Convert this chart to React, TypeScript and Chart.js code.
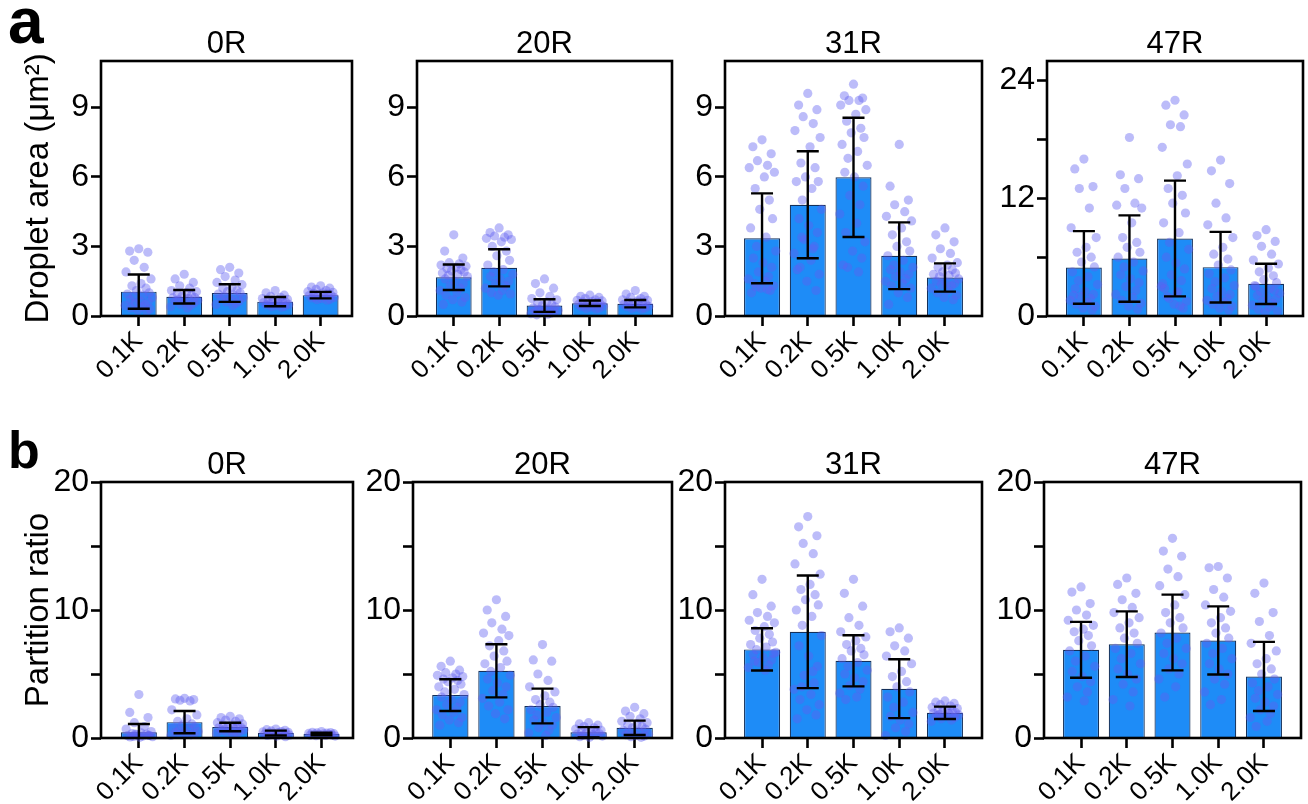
import React, { useEffect, useRef } from 'react';
import { Chart, registerables } from 'chart.js';

Chart.register(...registerables);
Chart.defaults.font.family = "'Liberation Sans', Arial, sans-serif";
Chart.defaults.color = '#000';

// ---------- data ----------
const CATEGORIES = ['0.1K', '0.2K', '0.5K', '1.0K', '2.0K'];
const PANEL_TITLES = ['0R', '20R', '31R', '47R'];
const AREA_TITLE = 'Droplet area (μm²)';
const RATIO_TITLE = 'Partition ratio';

const AREA_TICKS = [0, 3, 6, 9];
const AREA_LABELED = [0, 3, 6, 9];
const AREA_MAX = 11;
const AREA47_TICKS = [0, 6, 12, 18, 24];
const AREA47_LABELED = [0, 12, 24];
const AREA47_MAX = 26;
const RATIO_TICKS = [0, 5, 10, 15, 20];
const RATIO_LABELED = [0, 10, 20];
const RATIO_MAX = 20;

// Row a: droplet area (mean, SD, individual droplets)
const AREA_0R_MEAN = [1.05, 0.83, 0.99, 0.62, 0.9];
const AREA_0R_SD = [0.74, 0.29, 0.38, 0.2, 0.14];
const AREA_0R_POINTS = [
  [2.9, 2.8, 2.75, 2.4, 2.1, 1.9, 1.6, 1.4, 1.3, 1.2, 1.1, 1.0, 0.95, 0.9, 0.85, 0.8, 0.7, 0.65, 0.6, 0.55, 0.5, 0.45, 0.4, 0.35, 0.3, 0.25, 0.2],
  [1.8, 1.6, 1.45, 1.3, 1.2, 1.1, 1.05, 1.0, 0.95, 0.9, 0.85, 0.8, 0.78, 0.75, 0.7, 0.68, 0.65, 0.6, 0.55, 0.5, 0.45, 0.4, 0.35],
  [2.1, 2.0, 1.85, 1.7, 1.55, 1.45, 1.35, 1.25, 1.2, 1.1, 1.05, 1.0, 0.95, 0.9, 0.85, 0.8, 0.75, 0.7, 0.65, 0.6, 0.55, 0.5, 0.45],
  [1.1, 1.0, 0.9, 0.85, 0.8, 0.75, 0.72, 0.7, 0.68, 0.65, 0.62, 0.6, 0.58, 0.55, 0.52, 0.5, 0.48, 0.45, 0.42, 0.4, 0.38],
  [1.3, 1.25, 1.2, 1.15, 1.1, 1.05, 1.02, 1.0, 0.98, 0.95, 0.92, 0.9, 0.88, 0.85, 0.82, 0.8, 0.78, 0.75, 0.72, 0.7, 0.68],
];
const AREA_20R_MEAN = [1.67, 2.08, 0.45, 0.55, 0.53];
const AREA_20R_SD = [0.55, 0.8, 0.27, 0.12, 0.16];
const AREA_20R_POINTS = [
  [3.5, 2.8, 2.5, 2.3, 2.25, 2.2, 2.15, 2.1, 2.05, 2.0, 1.95, 1.9, 1.85, 1.8, 1.75, 1.7, 1.6, 1.5, 1.4, 1.3, 1.2, 1.1, 1.0, 0.9, 0.8, 0.7, 0.6, 0.5],
  [3.8, 3.6, 3.5, 3.45, 3.4, 3.35, 3.3, 3.2, 3.0, 2.8, 2.6, 2.4, 2.2, 2.0, 1.9, 1.8, 1.7, 1.6, 1.5, 1.4, 1.3, 1.2, 1.1, 1.0, 0.95, 0.9],
  [1.6, 1.4, 1.2, 1.0, 0.85, 0.75, 0.7, 0.6, 0.55, 0.5, 0.45, 0.4, 0.35, 0.3, 0.28, 0.25, 0.22, 0.2, 0.18, 0.15, 0.12, 0.1, 0.08, 0.05],
  [0.9, 0.85, 0.8, 0.75, 0.7, 0.68, 0.65, 0.62, 0.6, 0.58, 0.55, 0.52, 0.5, 0.48, 0.45, 0.42, 0.4, 0.38, 0.35, 0.32, 0.3],
  [1.1, 0.95, 0.85, 0.8, 0.75, 0.7, 0.68, 0.65, 0.6, 0.58, 0.55, 0.52, 0.5, 0.48, 0.45, 0.42, 0.4, 0.38, 0.35, 0.32, 0.3],
];
const AREA_31R_MEAN = [3.35, 4.8, 5.98, 2.6, 1.66];
const AREA_31R_SD = [1.94, 2.31, 2.57, 1.44, 0.61];
const AREA_31R_POINTS = [
  [7.6, 7.3, 7.0, 6.7, 6.5, 6.4, 6.2, 6.0, 5.5, 5.0, 4.6, 4.2, 3.8, 3.4, 3.0, 2.8, 2.5, 2.3, 2.1, 1.9, 1.7, 1.6, 1.5, 1.4, 1.3, 1.2, 1.1, 1.0, 1.15, 1.25],
  [9.6, 9.1, 8.9, 8.6, 8.3, 8.0, 7.7, 7.3, 6.6, 6.4, 6.0, 5.8, 5.8, 5.5, 5.0, 4.6, 4.2, 3.9, 3.6, 3.3, 3.0, 2.7, 2.4, 2.1, 1.8, 1.5, 1.1, 2.0, 2.9, 3.4],
  [10.0, 9.5, 9.4, 9.3, 9.3, 9.1, 8.9, 8.7, 8.4, 8.1, 7.9, 7.7, 7.4, 7.1, 6.8, 6.5, 6.2, 6.0, 5.6, 5.2, 4.8, 4.4, 4.0, 3.6, 3.2, 2.8, 2.5, 2.2, 1.9, 2.1],
  [7.4, 5.6, 5.0, 4.8, 4.5, 4.3, 4.1, 3.8, 3.5, 3.2, 3.0, 2.8, 2.6, 2.4, 2.2, 2.1, 2.0, 1.9, 1.8, 1.7, 1.6, 1.5, 1.4, 1.3, 1.2, 1.0, 0.8, 0.5],
  [3.8, 3.5, 3.2, 2.9, 2.7, 2.5, 2.3, 2.2, 2.1, 2.0, 1.9, 1.85, 1.8, 1.75, 1.7, 1.6, 1.5, 1.45, 1.4, 1.35, 1.3, 1.2, 1.1, 1.0, 0.9, 0.8, 0.7],
];
const AREA_47R_MEAN = [4.95, 5.86, 7.9, 4.98, 3.28];
const AREA_47R_SD = [3.7, 4.4, 5.9, 3.6, 2.05];
const AREA_47R_POINTS = [
  [16.0, 15.0, 13.2, 13.0, 11.0, 9.0, 8.0, 7.0, 6.5, 6.0, 5.5, 5.0, 4.5, 4.0, 3.6, 3.2, 2.8, 2.5, 2.2, 2.0, 1.8, 1.6, 1.4, 1.2, 1.0, 0.8, 0.6, 2.1],
  [18.2, 14.4, 14.0, 13.0, 11.5, 11.3, 11.0, 9.5, 8.0, 7.5, 7.0, 6.5, 6.0, 5.5, 5.0, 4.6, 4.2, 3.8, 3.4, 3.0, 2.6, 2.2, 1.9, 1.6, 1.3, 1.0, 0.7],
  [22.0, 21.5, 20.5, 19.5, 19.3, 17.2, 15.5, 14.3, 13.0, 12.3, 11.5, 10.5, 9.5, 8.5, 7.5, 6.8, 6.0, 5.4, 4.8, 4.2, 3.6, 3.0, 2.5, 2.0, 1.5, 1.2, 0.8, 2.8, 1.0, 1.8, 2.3, 3.3],
  [15.9, 14.8, 13.5, 11.5, 10.0, 9.3, 8.0, 7.0, 6.3, 5.8, 5.2, 4.7, 4.3, 3.9, 3.5, 3.1, 2.8, 2.5, 2.2, 2.0, 1.8, 1.6, 1.4, 1.2, 1.0, 0.8, 0.6],
  [8.8, 8.2, 7.6, 7.1, 6.3, 5.7, 5.3, 4.9, 4.5, 4.1, 3.7, 3.4, 3.1, 2.8, 2.5, 2.3, 2.1, 1.9, 1.7, 1.5, 1.3, 1.1, 0.9, 0.7, 0.5, 0.4, 2.6, 3.0],
];

// Row b: partition ratio (mean, SD, individual droplets)
const RATIO_0R_MEAN = [0.44, 1.24, 0.86, 0.39, 0.31];
const RATIO_0R_SD = [0.65, 0.87, 0.33, 0.19, 0.1];
const RATIO_0R_POINTS = [
  [3.4, 2.0, 1.6, 1.2, 0.9, 0.7, 0.5, 0.4, 0.35, 0.3, 0.25, 0.2, 0.18, 0.15, 0.12, 0.1, 0.08, 0.05, 0.2, 0.3],
  [3.1, 3.05, 3.0, 2.95, 2.9, 2.2, 1.8, 1.5, 1.3, 1.1, 1.0, 0.9, 0.8, 0.7, 0.6, 0.5, 0.45, 0.4, 0.35, 0.3, 0.25, 0.2],
  [1.7, 1.6, 1.5, 1.4, 1.3, 1.2, 1.1, 1.05, 1.0, 0.95, 0.9, 0.85, 0.8, 0.75, 0.7, 0.65, 0.6, 0.55, 0.5, 0.45, 0.4, 0.35, 0.3],
  [0.7, 0.65, 0.6, 0.55, 0.5, 0.48, 0.45, 0.42, 0.4, 0.38, 0.35, 0.32, 0.3, 0.28, 0.25, 0.22, 0.2, 0.15, 0.1],
  [0.5, 0.45, 0.42, 0.4, 0.38, 0.36, 0.34, 0.32, 0.3, 0.28, 0.26, 0.24, 0.22, 0.2, 0.18, 0.15],
];
const RATIO_20R_MEAN = [3.35, 5.25, 2.5, 0.45, 0.8];
const RATIO_20R_SD = [1.24, 2.08, 1.36, 0.4, 0.56];
const RATIO_20R_POINTS = [
  [6.0, 5.6, 5.3, 5.1, 5.0, 4.9, 4.8, 4.7, 4.6, 4.5, 4.4, 4.2, 4.0, 3.8, 3.6, 3.4, 3.2, 3.0, 2.8, 2.6, 2.4, 2.2, 2.0, 1.8, 1.6, 1.4, 1.2, 1.0],
  [10.8, 10.0, 9.5, 9.0, 8.5, 8.2, 8.0, 7.6, 7.2, 6.8, 6.4, 6.0, 5.8, 5.5, 5.2, 4.9, 4.6, 4.3, 4.0, 3.7, 3.4, 3.1, 2.8, 2.5, 2.2, 1.9, 1.5],
  [7.3, 6.1, 6.0, 5.0, 4.5, 4.0, 3.6, 3.3, 3.0, 2.8, 2.6, 2.4, 2.2, 2.0, 1.8, 1.6, 1.4, 1.2, 1.0, 0.8, 0.6, 0.4, 0.2],
  [1.2, 1.1, 1.0, 0.9, 0.8, 0.7, 0.6, 0.55, 0.5, 0.45, 0.4, 0.35, 0.3, 0.25, 0.2, 0.15, 0.1, 0.05],
  [2.4, 2.1, 1.9, 1.7, 1.5, 1.3, 1.2, 1.1, 1.0, 0.9, 0.8, 0.7, 0.6, 0.5, 0.4, 0.3, 0.25, 0.2, 0.15, 0.1, 0.05],
];
const RATIO_31R_MEAN = [6.92, 8.3, 6.03, 3.85, 1.97];
const RATIO_31R_SD = [1.65, 4.4, 2.0, 2.3, 0.48];
const RATIO_31R_POINTS = [
  [12.4, 11.2, 10.3, 9.8, 9.5, 9.2, 9.0, 8.7, 8.4, 8.1, 7.8, 7.5, 7.3, 7.1, 6.9, 6.7, 6.5, 6.3, 6.1, 5.9, 5.7, 5.5, 5.3, 6.0, 6.6],
  [17.3, 16.5, 15.8, 15.2, 14.4, 13.6, 12.8, 12.0, 11.6, 11.2, 10.8, 10.4, 10.0, 9.5, 8.8, 8.0, 7.2, 6.4, 5.6, 4.9, 4.3, 3.8, 3.4, 3.0, 2.6, 2.2, 1.8, 1.5, 5.2, 4.0],
  [12.4, 11.3, 10.3, 9.4, 8.8, 8.3, 7.9, 7.6, 7.3, 7.0, 6.8, 6.5, 6.2, 5.9, 5.6, 5.3, 5.0, 4.7, 4.4, 4.1, 3.8, 3.5, 3.2, 3.0],
  [8.6, 8.3, 7.8, 7.2, 6.8, 6.4, 5.8, 5.2, 4.8, 4.4, 4.0, 3.6, 3.2, 2.8, 2.4, 2.0, 1.7, 1.4, 1.1, 0.8, 0.5, 0.2],
  [2.9, 2.8, 2.7, 2.6, 2.5, 2.4, 2.3, 2.2, 2.15, 2.1, 2.05, 2.0, 1.95, 1.9, 1.85, 1.8, 1.75, 1.7, 1.6, 1.5, 1.4, 1.3],
];
const RATIO_47R_MEAN = [6.89, 7.33, 8.24, 7.62, 4.81];
const RATIO_47R_SD = [2.18, 2.56, 2.96, 2.66, 2.7];
const RATIO_47R_POINTS = [
  [11.8, 11.4, 10.5, 10.0, 9.6, 9.2, 8.8, 8.5, 8.3, 8.0, 7.6, 7.2, 6.8, 6.4, 6.0, 5.6, 5.2, 4.8, 4.4, 4.0, 3.6, 3.2, 2.9],
  [12.5, 12.0, 11.3, 10.8, 10.2, 9.8, 9.4, 9.0, 8.6, 8.2, 7.8, 7.4, 7.0, 6.6, 6.2, 5.8, 5.4, 5.0, 4.6, 4.2, 3.6, 3.0, 2.5],
  [15.6, 14.6, 14.2, 13.2, 12.6, 11.9, 11.2, 10.4, 9.8, 9.4, 9.0, 8.6, 8.2, 7.8, 7.4, 7.0, 6.6, 6.2, 5.8, 5.4, 5.0, 4.6, 4.0, 3.2],
  [13.4, 13.3, 12.5, 11.6, 11.0, 10.4, 9.9, 9.4, 9.0, 8.6, 8.2, 7.8, 7.4, 7.0, 6.6, 6.2, 5.8, 5.4, 5.0, 4.6, 4.2, 3.6, 3.0, 2.6],
  [12.1, 11.3, 9.8, 9.1, 8.0, 7.4, 6.8, 6.2, 5.8, 5.4, 5.0, 4.6, 4.3, 4.0, 3.7, 3.4, 3.1, 2.8, 2.5, 2.2, 1.9, 1.6, 1.3, 0.9],
];

// ---------- style / layout ----------
const JITTER = [0, -0.2, 0.2, -0.1, 0.12, -0.28, 0.27, 0.05, -0.15, 0.16, -0.05, 0.23, -0.25, 0.09, -0.12, 0.3, -0.19, 0.02, 0.21, -0.08, 0.14, -0.3, 0.07, -0.17, 0.25, -0.02, 0.18, -0.23, 0.11, -0.13, 0.04, -0.27];
const BAR_FILL = '#1e8cf7';
const BAR_EDGE = '#14305a';
const DOT_FILL = 'rgba(95,95,240,0.42)';
const FONT = "'Liberation Sans', Arial, sans-serif";
const PAD_TOP = 52;
const PAD_RIGHT = 6;
const X_AXIS_H = 66;

type Panel = {
  title: string; mean: number[]; sd: number[]; points: number[][];
  yMax: number; yTicks: number[]; yLabeled: number[]; yTitle?: string;
  plot: [number, number, number, number]; // left, top, right, bottom (page px)
  xRange: [number, number];
};

const ROW_A_PLOTS: [number, number, number, number][] = [[101, 61, 352, 316], [417, 61, 672, 316], [725, 61, 982, 316], [1047, 61, 1303, 316]];
const ROW_B_PLOTS: [number, number, number, number][] = [[101, 482, 353, 738], [413, 482, 672, 738], [725, 482, 982, 738], [1044, 482, 1301, 738]];
const X_RANGE_FIRST: [number, number] = [-0.83, 4.69];
const X_RANGE_OTHER: [number, number] = [-0.81, 4.81];

const AREA_SETS = [
  [AREA_0R_MEAN, AREA_0R_SD, AREA_0R_POINTS],
  [AREA_20R_MEAN, AREA_20R_SD, AREA_20R_POINTS],
  [AREA_31R_MEAN, AREA_31R_SD, AREA_31R_POINTS],
  [AREA_47R_MEAN, AREA_47R_SD, AREA_47R_POINTS],
] as const;
const RATIO_SETS = [
  [RATIO_0R_MEAN, RATIO_0R_SD, RATIO_0R_POINTS],
  [RATIO_20R_MEAN, RATIO_20R_SD, RATIO_20R_POINTS],
  [RATIO_31R_MEAN, RATIO_31R_SD, RATIO_31R_POINTS],
  [RATIO_47R_MEAN, RATIO_47R_SD, RATIO_47R_POINTS],
] as const;

const PANELS: Panel[] = [
  ...AREA_SETS.map((s, c) => ({
    title: PANEL_TITLES[c], mean: s[0] as number[], sd: s[1] as number[], points: s[2] as number[][],
    yMax: c === 3 ? AREA47_MAX : AREA_MAX,
    yTicks: c === 3 ? AREA47_TICKS : AREA_TICKS,
    yLabeled: c === 3 ? AREA47_LABELED : AREA_LABELED,
    yTitle: c === 0 ? AREA_TITLE : undefined,
    plot: ROW_A_PLOTS[c], xRange: c === 0 ? X_RANGE_FIRST : X_RANGE_OTHER,
  })),
  ...RATIO_SETS.map((s, c) => ({
    title: PANEL_TITLES[c], mean: s[0] as number[], sd: s[1] as number[], points: s[2] as number[][],
    yMax: RATIO_MAX, yTicks: RATIO_TICKS, yLabeled: RATIO_LABELED,
    yTitle: c === 0 ? RATIO_TITLE : undefined,
    plot: ROW_B_PLOTS[c], xRange: c === 0 ? X_RANGE_FIRST : X_RANGE_OTHER,
  })),
];

function PanelChart({ p }: { p: Panel }) {
  const ref = useRef<HTMLCanvasElement | null>(null);
  const [l, t, r, b] = p.plot;
  const yW = p.yTitle ? l : 72;
  const cw = yW + (r - l) + PAD_RIGHT;
  const ch = PAD_TOP + (b - t) + X_AXIS_H;

  useEffect(() => {
    if (!ref.current) return;
    const decor = {
      id: 'decor',
      afterDatasetsDraw(chart: any) {
        const { ctx, chartArea } = chart;
        const xs = chart.scales.x, ys = chart.scales.y;
        ctx.save();
        ctx.strokeStyle = '#000';
        ctx.lineWidth = 2.4;
        p.mean.forEach((m, i) => {
          const px = xs.getPixelForValue(i);
          const loV = m - p.sd[i];
          const lo = ys.getPixelForValue(Math.max(0, loV));
          const hi = ys.getPixelForValue(m + p.sd[i]);
          ctx.beginPath();
          ctx.moveTo(px, lo); ctx.lineTo(px, hi);
          ctx.moveTo(px - 11, hi); ctx.lineTo(px + 11, hi);
          if (loV > 0) { ctx.moveTo(px - 11, lo); ctx.lineTo(px + 11, lo); }
          ctx.stroke();
        });
        ctx.lineWidth = 2.6;
        ctx.strokeRect(chartArea.left, chartArea.top, chartArea.right - chartArea.left, chartArea.bottom - chartArea.top);
        ctx.fillStyle = '#000';
        ctx.font = `31px ${FONT}`;
        ctx.textAlign = 'center';
        ctx.textBaseline = 'alphabetic';
        ctx.fillText(p.title, (chartArea.left + chartArea.right) / 2, chartArea.top - 8);
        ctx.restore();
      },
    };
    const gridOpts = {
      display: true, offset: false, drawOnChartArea: false, drawTicks: true,
      tickLength: 10, tickWidth: 2.6, tickColor: '#000',
    };
    const chart = new Chart(ref.current, {
      type: 'bar',
      data: {
        datasets: [
          {
            type: 'scatter',
            data: p.points.flatMap((arr, i) => arr.map((v, k) => ({ x: i + JITTER[k % JITTER.length], y: v }))),
            pointRadius: 4.6,
            pointBackgroundColor: DOT_FILL,
            backgroundColor: DOT_FILL,
            pointBorderWidth: 0,
            borderWidth: 0,
            order: 1,
            clip: false,
          } as any,
          {
            type: 'bar',
            data: p.mean.map((m, i) => ({ x: i, y: m })),
            backgroundColor: BAR_FILL,
            borderColor: BAR_EDGE,
            borderWidth: 1.2,
            barPercentage: 0.9,
            categoryPercentage: 0.875,
            order: 2,
          } as any,
        ],
      },
      options: {
        responsive: false,
        animation: false,
        events: [],
        layout: { padding: { top: PAD_TOP, right: PAD_RIGHT, left: 0, bottom: 0 } },
        plugins: { legend: { display: false }, tooltip: { enabled: false }, title: { display: false } },
        scales: {
          x: {
            type: 'linear', min: p.xRange[0], max: p.xRange[1], offset: false,
            grid: gridOpts as any,
            border: { display: false },
            afterBuildTicks: (s: any) => { s.ticks = CATEGORIES.map((_, i) => ({ value: i })); },
            afterFit: (s: any) => { s.height = X_AXIS_H; },
            ticks: {
              autoSkip: false, maxRotation: 45, minRotation: 45, padding: 0,
              color: '#000', font: { size: 26, family: FONT },
              callback: (_v: any, i: number) => CATEGORIES[i] ?? '',
            },
          },
          y: {
            type: 'linear', min: 0, max: p.yMax,
            grid: gridOpts as any,
            border: { display: false },
            afterBuildTicks: (s: any) => { s.ticks = p.yTicks.map((v) => ({ value: v })); },
            afterFit: (s: any) => { s.width = yW; },
            ticks: {
              autoSkip: false, padding: 2, color: '#000', font: { size: 32, family: FONT },
              callback: (v: any) => (p.yLabeled.includes(Number(v)) ? String(v) : ''),
            },
            title: p.yTitle
              ? { display: true, text: p.yTitle, color: '#000', font: { size: 33, family: FONT }, padding: { top: 19, bottom: 0 } }
              : { display: false },
          },
        },
      } as any,
      plugins: [decor],
    });
    return () => chart.destroy();
  }, []);

  return (
    <canvas
      ref={ref}
      width={cw}
      height={ch}
      style={{ position: 'absolute', left: l - yW, top: t - PAD_TOP, width: cw, height: ch }}
    />
  );
}

export default function App() {
  return (
    <div style={{ position: 'absolute', left: 0, top: 0, width: 1308, height: 804, background: '#fff', overflow: 'hidden' }}>
      {PANELS.map((p, i) => <PanelChart key={i} p={p} />)}
      <div style={{ position: 'absolute', left: 8, top: -11, fontFamily: FONT, fontWeight: 'bold', fontSize: 64, lineHeight: '64px' }}>a</div>
      <div style={{ position: 'absolute', left: 8, top: 424, fontFamily: FONT, fontWeight: 'bold', fontSize: 52, lineHeight: '52px' }}>b</div>
    </div>
  );
}
